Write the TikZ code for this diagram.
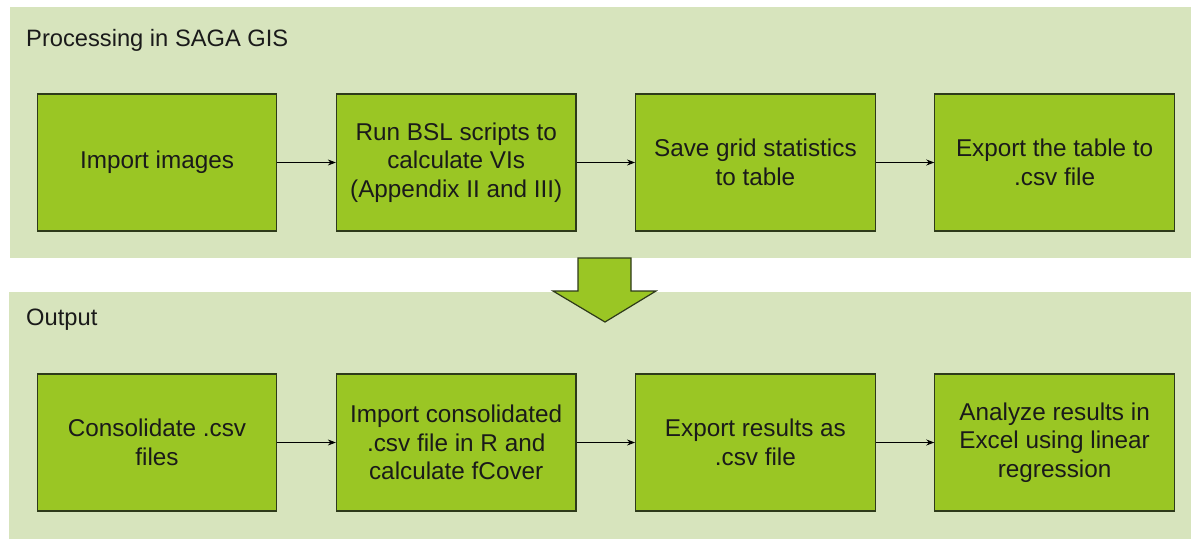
\documentclass[tikz,border=0pt]{standalone}
\usepackage{fontspec}
\setmainfont{Liberation Sans}
\usepackage{tikz}
\usetikzlibrary{positioning,arrows.meta}
\definecolor{panelgreen}{HTML}{D7E4BD}
\definecolor{boxgreen}{HTML}{9AC624}
\definecolor{edgedark}{HTML}{2E3A1A}
\definecolor{textdark}{HTML}{1A1A1A}

\begin{document}
\begin{tikzpicture}[x=1pt,y=-1pt,node distance=58.5pt,
	stepbox/.style={draw=edgedark,fill=boxgreen,line width=1.2pt,minimum width=239.5pt,minimum height=137pt,align=center,inner sep=0pt,text=textdark,font=\fontsize{24.3}{28.7}\selectfont},
	paneltitle/.style={anchor=west,inner sep=0pt,text=textdark,font=\fontsize{23.7}{29}\selectfont},
	flow/.style={-{Stealth[length=8pt,width=6pt]},line width=0.8pt}]
\useasboundingbox (0,0) rectangle (1191,539);
\fill[panelgreen] (10,7) rectangle (1191,258);
\fill[panelgreen] (9,292) rectangle (1191,539);
\node[paneltitle] (top) at (26,40) {Processing in SAGA GIS};
\node[paneltitle] (bottom) at (26,320) {Output};
\node[stepbox] (p1) at (157,162.5) {Import images};
\node[stepbox,right=58.5pt of p1] (p2) {Run BSL scripts to\\calculate VIs\\(Appendix II and III)};
\node[stepbox,right=58.5pt of p2] (p3) {Save grid statistics\\to table};
\node[stepbox,right=58.5pt of p3] (p4) {Export the table to\\.csv file};
\node[stepbox] (o1) at (157,442.5) {Consolidate .csv\\files};
\node[stepbox,right=58.5pt of o1] (o2) {Import consolidated\\.csv file in R and\\calculate fCover};
\node[stepbox,right=58.5pt of o2] (o3) {Export results as\\.csv file};
\node[stepbox,right=58.5pt of o3] (o4) {Analyze results in\\Excel using linear\\regression};
\draw[flow] (p1) -- (p2);
\draw[flow] (p2) -- (p3);
\draw[flow] (p3) -- (p4);
\draw[flow] (o1) -- (o2);
\draw[flow] (o2) -- (o3);
\draw[flow] (o3) -- (o4);
\draw[draw=edgedark,fill=boxgreen,line width=1.2pt,line join=miter] (578,258) -- (631,258) -- (631,291) -- (656,291) -- (605,322) -- (553,291) -- (578,291) -- cycle;
\end{tikzpicture}
\end{document}
